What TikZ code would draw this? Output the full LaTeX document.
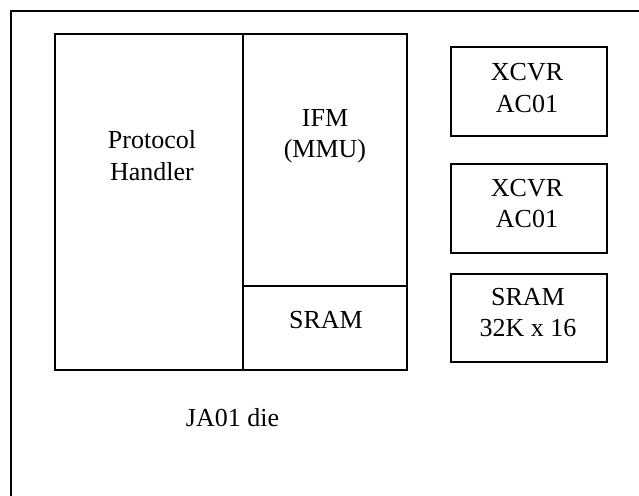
\documentclass[tikz,border=0pt]{standalone}
\usepackage{fontspec}
\setmainfont{Liberation Serif}
\usepackage{tikz}
\usetikzlibrary{positioning}

\begin{document}
\begin{tikzpicture}[
    x=1pt, y=-1pt,
    part/.style={draw, line width=1.2pt, inner sep=0pt, minimum width=#1},
    chiptext/.style={font=\fontsize{26}{31.5}\selectfont, align=center, inner sep=0pt}
]
    \useasboundingbox (0,0) rectangle (639,495);
    \clip (0,0) rectangle (639,495);

    % Die outline (runs off the page at right and bottom)
    \draw[line width=1.2pt] (11,11) rectangle (660,520);

    % Blocks on the die
    \node[part=188pt, minimum height=336pt] (ph) at (149,202) {};
    \node[part=164pt, minimum height=252pt] (ifm) at (325,160) {};
    \node[part=164pt, minimum height=84pt] (sram) at (325,328) {};

    % Parts beside the die
    \node[part=156pt, minimum height=89pt] (xcvra) at (529,91.5) {};
    \node[part=156pt, minimum height=89pt] (xcvrb) at (529,208.5) {};
    \node[part=156pt, minimum height=88pt] (sramx) at (529,318) {};

    % Texts
    \node[chiptext] (ph-t) at (152,155.5) {Protocol\\Handler};
    \node[chiptext] (ifm-t) at (325,136.5) {IFM\\(MMU)};
    \node[chiptext] (sram-t) at (326,320.5) {SRAM};
    \node[chiptext] (xcvra-t) at (527,88) {XCVR\\AC01};
    \node[chiptext] (xcvrb-t) at (527,203.5) {XCVR\\AC01};
    \node[chiptext] (sramx-t) at (528,312.5) {SRAM\\32K x 16};
    \node[chiptext] (die-t) at (232.5,418) {JA01 die};
\end{tikzpicture}
\end{document}
